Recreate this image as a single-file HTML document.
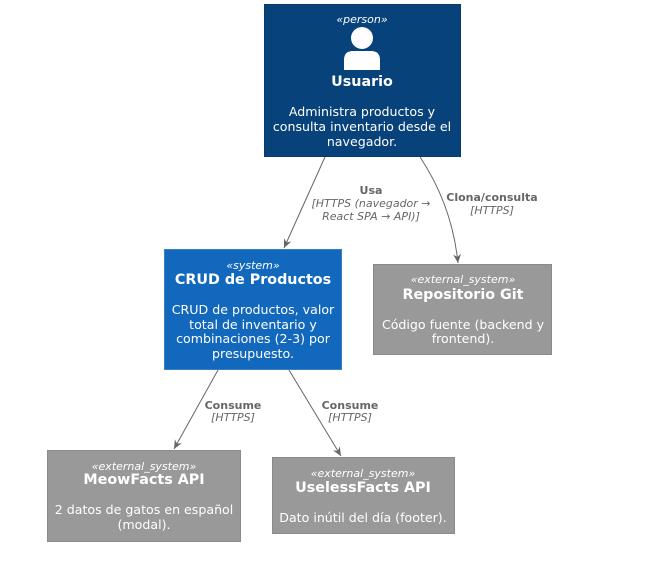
<!DOCTYPE html>
<html><head><meta charset="utf-8"><style>
html,body{margin:0;padding:0;background:#fff;}
svg{display:block;font-family:"DejaVu Sans","Liberation Sans",sans-serif;}
.st{font-size:11px;font-style:italic;fill:#fff;text-anchor:middle;}
.ti{font-size:14.3px;font-weight:bold;fill:#fff;text-anchor:middle;}
.de{font-size:12.6px;fill:#fff;text-anchor:middle;}
.lb{font-size:11px;font-weight:bold;fill:#666;text-anchor:middle;}
.lt{font-size:11px;font-style:italic;fill:#666;text-anchor:middle;}
</style></head><body>
<svg width="658" height="579" viewBox="0 0 658 579" xmlns="http://www.w3.org/2000/svg">
<defs><marker id="a" markerWidth="10" markerHeight="10" refX="9" refY="5" orient="auto" markerUnits="userSpaceOnUse"><path d="M0,1 L9,5 L0,9 L3,5 Z" fill="#666"/></marker></defs>
<line x1="325" y1="157" x2="284" y2="248" stroke="#666" stroke-width="1" marker-end="url(#a)"/>
<path d="M420,157 Q452,205 458,263" fill="none" stroke="#666" stroke-width="1" marker-end="url(#a)"/>
<line x1="218" y1="370" x2="174" y2="449" stroke="#666" stroke-width="1" marker-end="url(#a)"/>
<line x1="289" y1="370" x2="341" y2="456" stroke="#666" stroke-width="1" marker-end="url(#a)"/>
<text class="lb" x="371" y="194">Usa</text>
<text class="lt" x="371" y="207">[HTTPS (navegador →</text>
<text class="lt" x="371" y="220">React SPA → API)]</text>
<text class="lb" x="492" y="201">Clona/consulta</text>
<text class="lt" x="492" y="214">[HTTPS]</text>
<text class="lb" x="233" y="409">Consume</text>
<text class="lt" x="233" y="421">[HTTPS]</text>
<text class="lb" x="350" y="409">Consume</text>
<text class="lt" x="350" y="421">[HTTPS]</text>
<rect x="264.5" y="4.5" width="196" height="152" fill="#08427B" stroke="#073B6F"/>
<text class="st" x="362" y="23">«person»</text>
<circle cx="362" cy="38" r="11" fill="#fff"/>
<path d="M344,70 L344,60 Q344,51 353,51 L371,51 Q380,51 380,60 L380,70 Z" fill="#fff"/>
<text class="ti" x="362" y="86">Usuario</text>
<text class="de" x="362" y="116">Administra productos y</text>
<text class="de" x="362" y="131">consulta inventario desde el</text>
<text class="de" x="362" y="146">navegador.</text>
<rect x="164.5" y="249.5" width="177" height="120" fill="#1168BD" stroke="#3C7FC0"/>
<text class="st" x="253" y="269">«system»</text>
<text class="ti" x="253" y="284">CRUD de Productos</text>
<text class="de" x="253" y="314">CRUD de productos, valor</text>
<text class="de" x="253" y="329">total de inventario y</text>
<text class="de" x="253" y="343">combinaciones (2-3) por</text>
<text class="de" x="253" y="358">presupuesto.</text>
<rect x="373.5" y="264.5" width="178" height="90" fill="#999999" stroke="#8A8A8A"/>
<text class="st" x="463" y="283">«external_system»</text>
<text class="ti" x="463" y="299">Repositorio Git</text>
<text class="de" x="463" y="329">Código fuente (backend y</text>
<text class="de" x="463" y="343">frontend).</text>
<rect x="47.5" y="450.5" width="193" height="91" fill="#999999" stroke="#8A8A8A"/>
<text class="st" x="144" y="470">«external_system»</text>
<text class="ti" x="144" y="484">MeowFacts API</text>
<text class="de" x="144" y="514">2 datos de gatos en español</text>
<text class="de" x="144" y="529">(modal).</text>
<rect x="272.5" y="457.5" width="182" height="76" fill="#999999" stroke="#8A8A8A"/>
<text class="st" x="363" y="477">«external_system»</text>
<text class="ti" x="363" y="492">UselessFacts API</text>
<text class="de" x="363" y="522">Dato inútil del día (footer).</text>
</svg>
</body></html>
